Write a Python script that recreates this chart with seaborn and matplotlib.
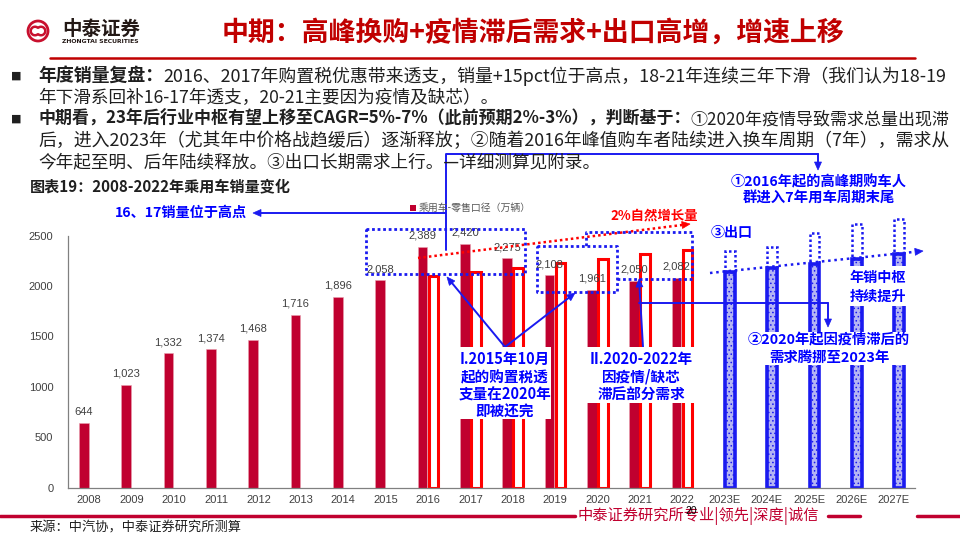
import numpy as np
import pandas as pd
import matplotlib
matplotlib.use("Agg")
import matplotlib.pyplot as plt
import seaborn as sns
from matplotlib.patches import Rectangle, Polygon, Circle, Arc
from matplotlib.lines import Line2D

# ---------------- data ----------------
years = ['2008', '2009', '2010', '2011', '2012', '2013', '2014', '2015', '2016', '2017',
         '2018', '2019', '2020', '2021', '2022', '2023E', '2024E', '2025E', '2026E', '2027E']
retail_years = years[:15]
retail = [644, 1023, 1332, 1374, 1468, 1716, 1896, 2058, 2389, 2420, 2275, 2108, 1961, 2050, 2082]
natural_years = years[8:15]
natural_2pct = [2100, 2140, 2183, 2225, 2270, 2315, 2360]
forecast_years = years[15:]
forecast_base = [2137, 2177, 2222, 2266, 2315]
forecast_top = [2348, 2391, 2524, 2613, 2663]
y_ticks = [0, 500, 1000, 1500, 2000, 2500]

W, H = 960, 540
CRIMSON = '#C0002F'
RED = '#FF0000'
BLUE = '#0000FF'
LBLUE = '#1A1AF0'

sns.set_style('white')
plt.rcParams['font.family'] = ['Noto Sans CJK SC', 'DejaVu Sans']
plt.rcParams['hatch.linewidth'] = 0.6
plt.rcParams['hatch.color'] = LBLUE

df = pd.concat([
    pd.DataFrame({'年份': retail_years, '销量': retail, '系列': '零售'}),
    pd.DataFrame({'年份': natural_years, '销量': natural_2pct, '系列': '对比'}),
    pd.DataFrame({'年份': forecast_years, '销量': forecast_base, '系列': '对比'}),
], ignore_index=True)

fig = plt.figure(figsize=(9.6, 5.4), dpi=100)
PX = 0.1008  # pixels per unit
ax = fig.add_axes([68 / W, (H - 487.7) / H, 847 / W, 3000 * PX / H])

sns.barplot(data=df, x='年份', y='销量', hue='系列', order=years, hue_order=['零售', '对比'],
            width=0.52, gap=0.12, dodge=True, legend=False, ax=ax,
            palette=[CRIMSON, RED], saturation=1, errorbar=None)

ax.set_xlim(-0.5, 19.5)
ax.set_ylim(0, 3000)

numfont = ['Liberation Sans', 'DejaVu Sans']
for bar in ax.containers[0]:
    bar.set_facecolor(CRIMSON)
    bar.set_edgecolor('#E8A0B0')
    bar.set_linewidth(0.4)
    cx = bar.get_x() + bar.get_width() / 2
    h = bar.get_height()
    ax.annotate(f"{int(round(h)):,}", (cx, h), xytext=(0, 8), textcoords='offset points',
                ha='center', va='center', fontsize=8, family=numfont, color='#404040',
                zorder=5)

for bar in ax.containers[1]:
    cx = bar.get_x() + bar.get_width() / 2
    idx = int(round(cx))
    if idx < 15:
        bar.set_facecolor('white')
        bar.set_edgecolor(RED)
        bar.set_linewidth(2.2)
    else:
        bar.set_facecolor('#B4B4F4')
        bar.set_edgecolor(LBLUE)
        bar.set_linewidth(2.6)
        bar.set_hatch('....')
        top = forecast_top[forecast_years.index(years[idx])]
        ax.bar(bar.get_x(), top - bar.get_height(), bottom=bar.get_height(),
               width=bar.get_width(), align='edge', fill=False, edgecolor=LBLUE,
               linestyle=(0, (1, 1)), linewidth=1.8, clip_on=False)

ax.set_xlabel('')
ax.set_ylabel('')
ax.set_xticks(range(len(years)))
ax.set_xticklabels(years, fontsize=8, family=numfont, color='#404040')
ax.set_xticks(np.arange(-0.5, 20, 1), minor=True)
ax.tick_params(axis='x', which='major', length=0, pad=5)
ax.tick_params(axis='x', which='minor', length=4, color='#808080', direction='out', width=0.8)
ax.set_yticks(y_ticks)
ax.set_yticklabels([str(v) for v in y_ticks], fontsize=8, family=numfont, color='#404040')
ax.tick_params(axis='y', length=3, color='#808080', direction='out', pad=7.5, width=0.8)
for s in ['top', 'right']:
    ax.spines[s].set_visible(False)
ax.spines['left'].set_bounds(0, 2500)
for s in ['left', 'bottom']:
    ax.spines[s].set_color('#808080')
    ax.spines[s].set_linewidth(0.9)
ax.set_facecolor('none')

# ---------------- helpers in pixel coords ----------------
tr = fig.dpi_scale_trans
renderer = fig.canvas.get_renderer()


def P(x, y):
    return (x / 100.0, (H - y) / 100.0)


def T(x, y, s, **kw):
    kw.setdefault('va', 'center')
    return fig.text(x / 100.0, (H - y) / 100.0, s, transform=tr, **kw)


def fit(t, target):
    w = t.get_window_extent(renderer).width
    t.set_fontsize(t.get_fontsize() * target / w)
    return t


def L(xs, ys, **kw):
    fig.add_artist(Line2D([x / 100.0 for x in xs], [(H - y) / 100.0 for y in ys],
                          transform=tr, **kw))


def A(p0, p1, color=LBLUE, lw=1.4, ls='-', hl=8, hw=7):
    p0 = np.array(p0, float)
    p1 = np.array(p1, float)
    d = p1 - p0
    u = d / np.hypot(*d)
    n = np.array([-u[1], u[0]])
    base = p1 - u * hl
    L([p0[0], base[0]], [p0[1], base[1]], color=color, lw=lw, linestyle=ls)
    pts = [p1, base + n * hw / 2, base - n * hw / 2]
    fig.add_artist(Polygon([P(*p) for p in pts], closed=True, transform=tr,
                           facecolor=color, edgecolor=color, lw=0.5))


def R(x0, y0, x1, y1, **kw):
    fig.add_artist(Rectangle(P(x0, y1), (x1 - x0) / 100.0, (y1 - y0) / 100.0,
                             transform=tr, **kw))


def rich(x, y, segs, target_end=None, size=12, color='#1F1F1F'):
    ts = []
    for s, w in segs:
        ts.append(T(x, y, s, fontsize=size, fontweight=w, color=color, ha='left'))
    widths = [t.get_window_extent(renderer).width for t in ts]
    if target_end is not None:
        size = size * (target_end - x) / sum(widths)
    cx = x
    for t in ts:
        t.set_fontsize(size)
        t.set_x(cx / 100.0)
        cx += t.get_window_extent(renderer).width
    return size


# ---------------- header ----------------
fig.add_artist(Circle(P(38, 31), 0.10, transform=tr, fill=False, ec='#C8102E', lw=2))
fig.add_artist(Arc(P(35, 31), 0.085, 0.085, theta1=40, theta2=320, transform=tr, ec='#C8102E', lw=1.8))
fig.add_artist(Arc(P(41, 31), 0.085, 0.085, theta1=220, theta2=140, transform=tr, ec='#C8102E', lw=1.8))
fit(T(62, 29, '中泰证券', fontsize=14, fontweight='bold', color='#231815', ha='left'), 78)
fit(T(62, 42, 'ZHONGTAI SECURITIES', fontsize=5, fontweight='bold', color='#231815', ha='left',
      family=['DejaVu Sans']), 78)
fit(T(222, 33, '中期：高峰换购+疫情滞后需求+出口高增，增速上移', fontsize=19,
      fontweight='bold', color='#C00000', ha='left'), 623)
L([50, 915], [58, 58], color='#C00000', lw=1.8)

# ---------------- bullets ----------------
for yb in (76, 119):
    T(11, yb, '■', fontsize=8, color='#1F1F1F', ha='left', family=['DejaVu Sans'])
s1 = rich(38, 76, [('年度销量复盘：', 'bold'),
                   ('2016、2017年购置税优惠带来透支，销量+15pct位于高点，18-21年连续三年下滑（我们认为18-19', 'normal')],
          target_end=948)
s3 = rich(38, 119, [('中期看，23年后行业中枢有望上移至CAGR=5%-7%（此前预期2%-3%），判断基于：', 'bold'),
                    ('①2020年疫情导致需求总量出现滞', 'normal')], target_end=948)
s4 = rich(38, 141, [('后，进入2023年（尤其年中价格战趋缓后）逐渐释放；②随着2016年峰值购车者陆续进入换车周期（7年），需求从', 'normal')],
          target_end=948)
sm = (s1 + s3 + s4) / 3
rich(38, 98, [('年下滑系回补16-17年透支，20-21主要因为疫情及缺芯）。', 'normal')], size=sm)
rich(38, 162, [('今年起至明、后年陆续释放。③出口长期需求上行。—详细测算见附录。', 'normal')], size=sm)

# ---------------- chart title & legend ----------------
fit(T(30, 186, '图表19：2008-2022年乘用车销量变化', fontsize=11, fontweight='bold',
      color='#1F1F1F', ha='left'), 260)
R(410, 205, 416, 211, facecolor=CRIMSON, edgecolor='none')
fit(T(419, 208, '乘用车-零售口径（万辆）', fontsize=7.8, color='#595959', ha='left'), 113)

# ---------------- annotations ----------------
fit(T(181, 213, '16、17销量位于高点', fontsize=10.3, fontweight='bold', color=BLUE, ha='center'), 132)
A((446, 213), (253, 213))
L([446, 446, 818], [250, 154, 154], color=LBLUE, lw=1.4)
A((818, 154), (818, 170))
fit(T(819, 182, '①2016年起的高峰期购车人', fontsize=11, fontweight='bold', color=BLUE, ha='center'), 175)
fit(T(819, 199, '群进入7年用车周期末尾', fontsize=11, fontweight='bold', color=BLUE, ha='center'), 152)

fit(T(654, 216, '2%自然增长量', fontsize=10, fontweight='bold', color=RED, ha='center'), 88)
A((418, 258), (690, 224), color=RED, lw=1.8, ls=(0, (1, 1.2)))
fit(T(732, 233, '③出口', fontsize=10, fontweight='bold', color=BLUE, ha='center'), 42)
A((710, 273), (923, 251), color=LBLUE, lw=1.8, ls=(0, (1, 1.5)))

dot = dict(color=LBLUE, lw=2.0, linestyle=(0, (1, 1)))
L([366, 525, 525, 366, 366], [229, 229, 274, 274, 229], **dot)
L([537, 617, 617, 537, 537], [246, 246, 292, 292, 246], **dot)
L([617, 692, 692, 586, 586], [279, 279, 232, 232, 246], **dot)

A((505, 347), (447, 277))
A((505, 347), (575, 293))
A((643, 347), (639, 279))
L([639, 828], [303, 303], color=LBLUE, lw=1.4)
A((828, 303), (828, 327))

bbox_kw = dict(facecolor='white', edgecolor='none', zorder=2.5)
R(460, 347, 551, 419, **bbox_kw)
for yy, s in zip([359, 377, 395, 412], ['I.2015年10月', '起的购置税透', '支量在2020年', '即被还完']):
    T(505, yy, s, fontsize=10.5, fontweight='bold', color=BLUE, ha='center')
R(587, 347, 695, 403, **bbox_kw)
for yy, s in zip([359, 377, 395], ['II.2020-2022年', '因疫情/缺芯', '滞后部分需求']):
    T(641, yy, s, fontsize=10.5, fontweight='bold', color=BLUE, ha='center')
R(745, 332, 912, 365, **bbox_kw)
fit(T(829, 340, '②2020年起因疫情滞后的', fontsize=10.4, fontweight='bold', color=BLUE, ha='center'), 162)
T(829, 358, '需求腾挪至2023年', fontsize=10.4, fontweight='bold', color=BLUE, ha='center')
R(846, 266, 911, 306, **bbox_kw)
T(878, 278, '年销中枢', fontsize=10.2, fontweight='bold', color=BLUE, ha='center')
T(878, 297, '持续提升', fontsize=10.2, fontweight='bold', color=BLUE, ha='center')

# ---------------- footer ----------------
L([0, 575], [516, 516], color=CRIMSON, lw=2.5)
fit(T(578, 516, '中泰证券研究所专业|领先|深度|诚信', fontsize=11, color=CRIMSON, ha='left'), 241)
L([828, 860], [516, 516], color=CRIMSON, lw=2.5)
L([917, 960], [516, 516], color=CRIMSON, lw=2.5)
T(691, 511, '20', fontsize=7.5, color='#000000', ha='center', family=numfont)
fit(T(30, 528, '来源：中汽协，中泰证券研究所测算', fontsize=9.5, color='#1F1F1F', ha='left'), 212)

fig.savefig('out.png', dpi=100, facecolor='white')
